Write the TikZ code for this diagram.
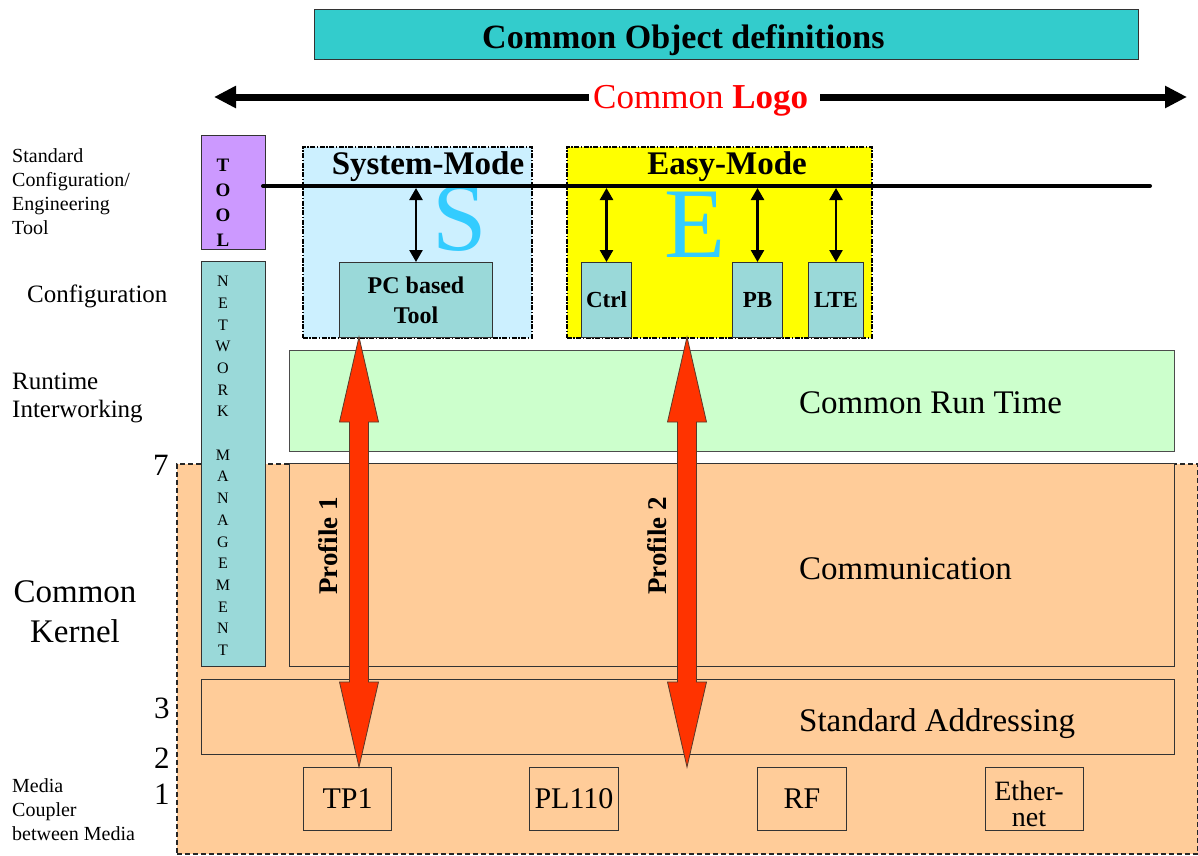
\documentclass[tikz,border=0pt]{standalone}
\usepackage{fontspec}
\setmainfont{Liberation Serif}
\usetikzlibrary{arrows.meta}
\definecolor{cteal}{HTML}{33CCCC}
\definecolor{ctool}{HTML}{CC99FF}
\definecolor{cnet}{HTML}{9AD9D9}
\definecolor{csys}{HTML}{CCF0FF}
\definecolor{ceasy}{HTML}{FFFF00}
\definecolor{crun}{HTML}{CCFFCC}
\definecolor{ckern}{HTML}{FFCC99}
\definecolor{cred}{HTML}{FF3300}
\definecolor{cbig}{HTML}{33CCFF}
\definecolor{cedge}{HTML}{5A3A2A}
\newcommand\fs[2]{\fontsize{#1}{#2}\selectfont}
\begin{document}
\begin{tikzpicture}[x=1pt,y=-1pt,
  box/.style={draw=black!80, line width=1pt, inner sep=0pt, anchor=north west},
  modebox/.style={box, draw=black, line width=1.6pt, dash pattern=on 5pt off 1.5pt on 1.5pt off 1.5pt},
  media/.style={box, fill=ckern, minimum height=63pt, font=\fs{30}{24}},
  tealbox/.style={box, fill=cnet, minimum height=75pt, font=\fs{23}{26}\bfseries},
  lbl/.style={inner sep=0pt, text=black},
  dbl/.style={line width=2.5pt, {Triangle[length=12pt,width=13pt]}-{Triangle[length=12pt,width=13pt]}, shorten <=2pt},
  fat/.style={draw=cedge, line width=0.8pt, fill=cred, line join=miter},
  logoline/.style={line width=7pt}
]
\useasboundingbox (0,0) rectangle (1198,855);
\fill[white] (0,0) rectangle (1198,855);

% title
\node[box, fill=cteal, minimum width=824pt, minimum height=50pt] (title) at (314,9) {};
\node[lbl, anchor=base west, font=\fs{34}{40}\bfseries] (titletxt) at (482,48) {Common Object definitions};

% common logo arrow
\coordinate (logoL) at (214,97);
\coordinate (gapL) at (589,97);
\coordinate (gapR) at (820,97);
\coordinate (logoR) at (1187,97);
\draw[logoline, {Triangle[length=22pt,width=21pt]}-] (logoL) -- (gapL);
\draw[logoline, -{Triangle[length=22pt,width=21pt]}] (gapR) -- (logoR);
\node[lbl, anchor=base west, font=\fs{35}{38}, text=red] (logo) at (593,108) {Common \textbf{Logo}};

% tool box
\node[box, fill=ctool, minimum width=64pt, minimum height=114pt] (tool) at (201,135) {};
\node[lbl, anchor=north, align=center, font=\fs{19}{25}\bfseries] (tooltxt) at (223,159) {T\\O\\O\\L};

% common kernel
\node[box, fill=ckern, draw=black!85, line width=1.6pt, dash pattern=on 5pt off 3pt, minimum width=1021pt, minimum height=390pt] (kernel) at (176,463) {};

% network management
\node[box, fill=cnet, minimum width=64pt, minimum height=405pt] (net) at (201,261) {};
\node[lbl, anchor=north, align=center, font=\fs{16}{21.7}] (nettxt) at (223,276) {N\\E\\T\\W\\O\\R\\K\\\mbox{}\\M\\A\\N\\A\\G\\E\\M\\E\\N\\T};

% system mode
\node[modebox, fill=csys, minimum width=229pt, minimum height=191pt] (sys) at (302,146) {};
\node[lbl, anchor=base, font=\fs{33}{36}\bfseries] (systxt) at (428,174) {System-Mode};
\node[lbl, anchor=base, font=\fs{98}{100}, text=cbig] (bigS) at (460,250) {S};
\node[box, fill=cnet, minimum width=153pt, minimum height=75pt, align=center, font=\fs{24}{30}\bfseries] (pc) at (339,262) {PC based\\Tool};

% easy mode
\node[modebox, fill=ceasy, minimum width=305pt, minimum height=191pt] (easy) at (566,146) {};
\node[lbl, anchor=base, font=\fs{33}{36}\bfseries] (easytxt) at (727,174) {Easy-Mode};
\node[lbl, anchor=base, font=\fs{100}{100}, text=cbig] (bigE) at (695,257) {E};
\node[tealbox, minimum width=50pt] (ctrl) at (581,262) {Ctrl};
\node[tealbox, minimum width=50pt] (pb) at (732,262) {PB};
\node[tealbox, minimum width=55pt] (lte) at (808,262) {LTE};

% layers
\node[box, fill=crun, draw=black!70, minimum width=885pt, minimum height=101pt] (run) at (289,350) {};
\node[lbl, anchor=base west, font=\fs{33}{36}] (runtxt) at (799,413) {Common Run Time};
\node[box, fill=ckern, minimum width=885pt, minimum height=203pt] (comm) at (289,463) {};
\node[lbl, anchor=base west, font=\fs{33}{36}] (commtxt) at (799,579) {Communication};
\node[box, fill=ckern, minimum width=973pt, minimum height=75pt] (addr) at (201,679) {};
\node[lbl, anchor=base west, font=\fs{33}{36}] (addrtxt) at (799,731) {Standard Addressing};

% media
\node[media, minimum width=88pt] (tp1) at (303,767) {TP1};
\node[media, minimum width=89pt] (pl) at (529,767) {PL110};
\node[media, minimum width=89pt] (rf) at (757,767) {RF};
\node[media, minimum width=98pt] (eth) at (985,767) {};
\node[lbl, align=center, font=\fs{28}{26}] (ethtxt) at (1029,804) {Ether-\\net};

% tool line
\coordinate (hlL) at (263,186);
\coordinate (hlR) at (1150,186);
\draw[line width=4pt, line cap=round] (hlL) -- (hlR);
\draw[dbl] (pc.north |- hlL) -- (pc.north);
\draw[dbl] (ctrl.north |- hlL) -- (ctrl.north);
\draw[dbl] (pb.north |- hlL) -- (pb.north);
\draw[dbl] (lte.north |- hlL) -- (lte.north);

% profile arrows
\coordinate (p1t) at (359,337);
\coordinate (p1b) at (359,767);
\coordinate (p2t) at (687,337);
\coordinate (p2b) at (687,767);
\draw[fat] (p1t) -- ++(19.5,85) -- ++(-10,0) -- ++(0,260) -- ++(10,0) -- (p1b) -- ++(-19.5,-85) -- ++(10,0) -- ++(0,-260) -- ++(-10,0) -- cycle;
\draw[fat] (p2t) -- ++(19.5,85) -- ++(-10,0) -- ++(0,260) -- ++(10,0) -- (p2b) -- ++(-19.5,-85) -- ++(10,0) -- ++(0,-260) -- ++(-10,0) -- cycle;
\node[lbl, rotate=90, font=\fs{27}{30}\bfseries] (prof1) at (328,546) {Profile 1};
\node[lbl, rotate=90, font=\fs{27}{30}\bfseries] (prof2) at (657,546) {Profile 2};

% left labels
\node[lbl, anchor=north west, align=left, font=\fs{20}{24}] (l1) at (12,148) {Standard\\Configuration/\\Engineering\\Tool};
\node[lbl, anchor=base west, font=\fs{25}{28}] (l2) at (27,302) {Configuration};
\node[lbl, anchor=north west, align=left, font=\fs{25}{28}] (l3) at (12,373) {Runtime\\Interworking};
\node[lbl, anchor=north, align=center, font=\fs{33}{40}] (ck) at (75,580) {Common\\Kernel};
\node[lbl, anchor=north west, align=left, font=\fs{20}{24}] (l4) at (12,778) {Media\\Coupler\\between Media};
\node[lbl, anchor=base west, font=\fs{31}{34}] (n7) at (153,475) {7};
\node[lbl, anchor=base west, font=\fs{31}{34}] (n3) at (154,718) {3};
\node[lbl, anchor=base west, font=\fs{31}{34}] (n2) at (154,768) {2};
\node[lbl, anchor=base west, font=\fs{31}{34}] (n1) at (154,804) {1};
\end{tikzpicture}
\end{document}
